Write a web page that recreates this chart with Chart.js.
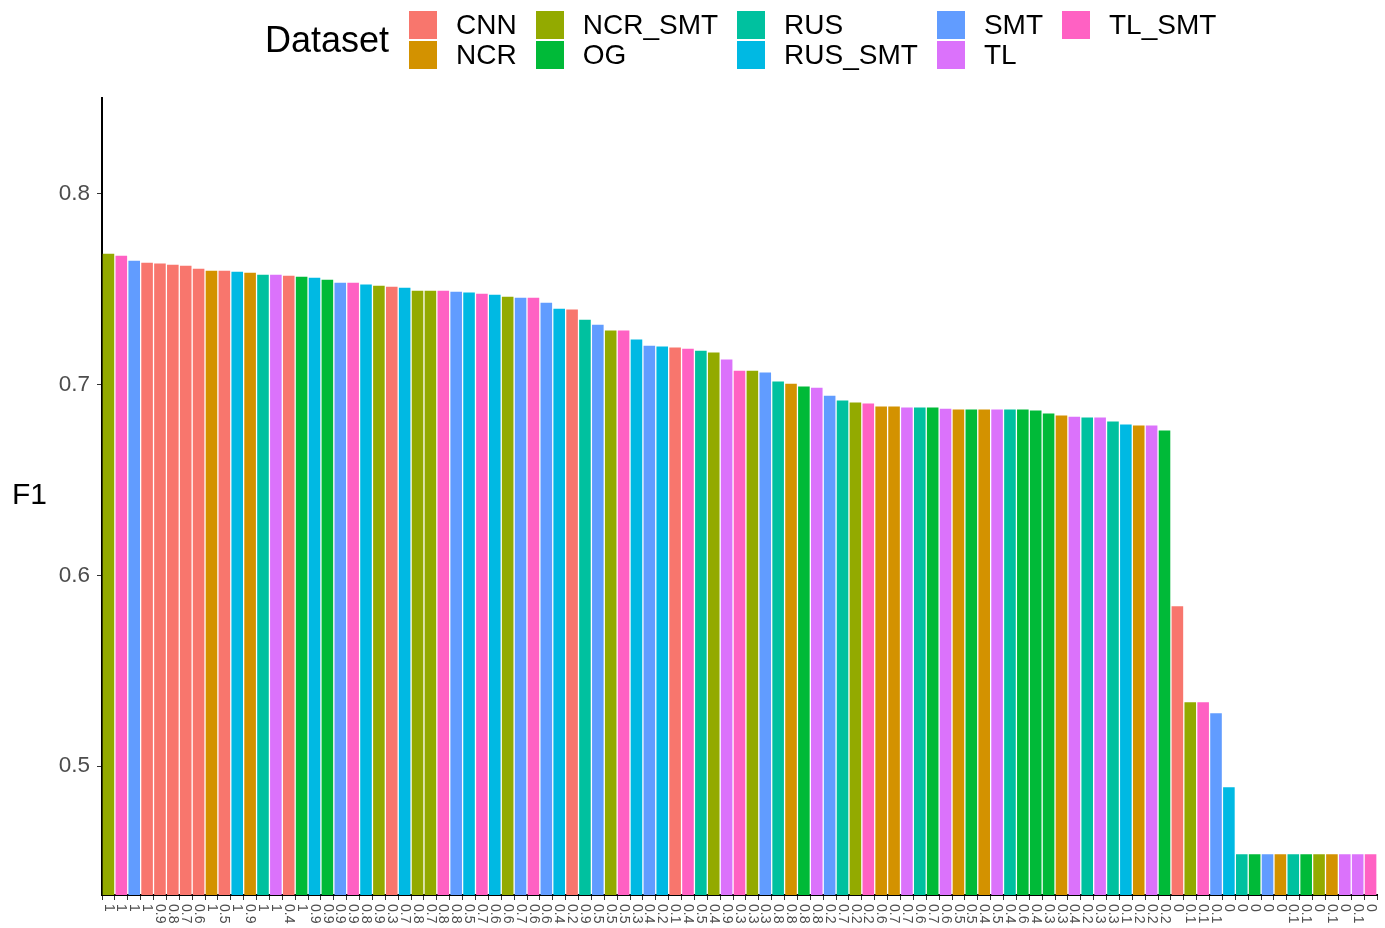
<!DOCTYPE html>
<html>
<head>
<meta charset="utf-8">
<script src="https://cdn.jsdelivr.net/npm/chart.js@4.4.1/dist/chart.umd.min.js"></script>
<style>
  html, body { margin: 0; padding: 0; background: #ffffff; }
  body { width: 1385px; height: 928px; position: relative; overflow: hidden;
         font-family: "Liberation Sans", Arial, Helvetica, sans-serif; }
  #wrap { position: absolute; left: 0; top: 0; width: 1385px; height: 928px; }
  #legend { position: absolute; left: 265px; top: 10px; display: flex; align-items: center; }
  #legend .title { font-size: 36px; color: #000; margin-right: 20px; line-height: 60px; }
  #legend .items { display: grid; grid-template-rows: 30px 30px; grid-auto-flow: column; column-gap: 19px; }
  #legend .item { display: flex; align-items: center; height: 30px; }
  #legend .key { width: 28px; height: 28px; margin-right: 19px; }
  #legend .lab { font-size: 28px; color: #000; white-space: nowrap; }
  #ytitle { position: absolute; left: 12px; top: 477px; font-size: 30px; color: #000; }
</style>
</head>
<body>
<div id="wrap"><canvas id="c" width="1385" height="928"></canvas></div>
<div id="legend"><div class="title">Dataset</div><div class="items" id="items"></div></div>
<div id="ytitle">F1</div>
<script>
// ---- data ----
const groups = ['CNN','NCR','NCR_SMT','OG','RUS','RUS_SMT','SMT','TL','TL_SMT'];
const groupColors = ['#F8766D','#D39200','#93AA00','#00BA38','#00C19F','#00B9E3','#619CFF','#DB72FB','#FF61C3'];

const xLabels = [
  '1','1','1','1','0.9','0.8','0.7','0.6','1','0.5',
  '1','0.9','1','1','0.4','1','0.9','0.9','0.9','0.9',
  '0.8','0.9','0.3','0.7','0.8','0.7','0.8','0.8','0.5','0.7',
  '0.6','0.6','0.7','0.6','0.6','0.4','0.2','0.9','0.5','0.5',
  '0.5','0.3','0.4','0.2','0.1','0.4','0.5','0.4','0.9','0.3',
  '0.3','0.3','0.8','0.8','0.8','0.8','0.2','0.7','0.2','0.2',
  '0.6','0.7','0.7','0.6','0.7','0.6','0.5','0.5','0.4','0.5',
  '0.4','0.6','0.4','0.3','0.3','0.4','0.2','0.3','0.3','0.1',
  '0.2','0.2','0.2','0','0.1','0.1','0.1','0','0','0',
  '0','0','0.1','0.1','0','0.1','0','0.1','0'
];

const barDataset = [
  'NCR_SMT','TL_SMT','SMT','CNN','CNN','CNN','CNN','CNN','NCR','CNN',
  'RUS_SMT','NCR','RUS','TL','CNN','OG','RUS_SMT','OG','SMT','TL_SMT',
  'RUS_SMT','NCR_SMT','CNN','RUS_SMT','NCR_SMT','NCR_SMT','TL_SMT','SMT','RUS_SMT','TL_SMT',
  'RUS_SMT','NCR_SMT','SMT','TL_SMT','SMT','RUS_SMT','CNN','RUS','SMT','NCR_SMT',
  'TL_SMT','RUS_SMT','SMT','RUS_SMT','CNN','TL_SMT','RUS','NCR_SMT','TL','TL_SMT',
  'NCR_SMT','SMT','RUS','NCR','OG','TL','SMT','RUS','NCR_SMT','TL_SMT',
  'NCR','NCR','TL','RUS','OG','TL','NCR','OG','NCR','TL',
  'RUS','OG','OG','OG','NCR','TL','RUS','TL','RUS','RUS_SMT',
  'NCR','TL','OG','CNN','NCR_SMT','TL_SMT','SMT','RUS_SMT','RUS','OG',
  'SMT','NCR','RUS','OG','NCR_SMT','NCR','TL','TL','TL_SMT'
];

const f1Values = [
  0.7686,0.7675,0.7649,0.7639,0.7634,0.7628,0.7623,0.7607,0.7597,0.7597,
  0.7592,0.7586,0.7576,0.7576,0.7571,0.7565,0.7560,0.7550,0.7534,0.7534,
  0.7524,0.7518,0.7513,0.7508,0.7492,0.7492,0.7492,0.7487,0.7482,0.7476,
  0.7471,0.7461,0.7455,0.7455,0.7429,0.7398,0.7393,0.7340,0.7314,0.7283,
  0.7283,0.7236,0.7204,0.7199,0.7194,0.7188,0.7178,0.7168,0.7131,0.7073,
  0.7073,0.7063,0.7016,0.7005,0.6990,0.6984,0.6942,0.6916,0.6906,0.6901,
  0.6885,0.6885,0.6880,0.6880,0.6880,0.6874,0.6869,0.6869,0.6869,0.6869,
  0.6869,0.6869,0.6864,0.6848,0.6838,0.6832,0.6827,0.6827,0.6806,0.6791,
  0.6785,0.6785,0.6759,0.5838,0.5335,0.5335,0.5277,0.4890,0.4539,0.4539,
  0.4539,0.4539,0.4539,0.4539,0.4539,0.4539,0.4539,0.4539,0.4539
];

const yTicks = [0.5, 0.6, 0.7, 0.8];
const yMin = 0.4325, yMax = 0.8502;

// ---- legend (HTML, column-major like ggplot) ----
const itemsEl = document.getElementById('items');
groups.forEach((g, i) => {
  const it = document.createElement('div'); it.className = 'item';
  const k = document.createElement('div'); k.className = 'key'; k.style.background = groupColors[i];
  const l = document.createElement('div'); l.className = 'lab'; l.textContent = g;
  it.appendChild(k); it.appendChild(l); itemsEl.appendChild(it);
});

const barColors = barDataset.map(g => groupColors[groups.indexOf(g)]);
const FONT = '"Liberation Sans", Arial, Helvetica, sans-serif';

const xLabelPlugin = {
  id: 'xLabelsRot',
  afterDraw(chart) {
    const { ctx } = chart;
    const x = chart.scales.x;
    ctx.save();
    ctx.font = '14px ' + FONT;
    ctx.fillStyle = '#4D4D4D';
    ctx.textAlign = 'left';
    ctx.textBaseline = 'middle';
    xLabels.forEach((lab, i) => {
      const px = x.getPixelForTick(i);
      ctx.save();
      ctx.translate(px, x.top + 9);
      ctx.rotate(Math.PI / 2);
      ctx.fillText(lab, 0, 0);
      ctx.restore();
    });
    ctx.restore();
  }
};

new Chart(document.getElementById('c'), {
  type: 'bar',
  data: {
    labels: xLabels,
    datasets: [{
      label: 'F1',
      data: f1Values,
      backgroundColor: barColors,
      borderWidth: 0,
      barPercentage: 0.9,
      categoryPercentage: 1.0
    }]
  },
  options: {
    responsive: false,
    animation: false,
    layout: { padding: { left: 0, right: 8, top: 98, bottom: 0 } },
    plugins: { legend: { display: false }, tooltip: { enabled: false } },
    scales: {
      x: {
        type: 'category',
        offset: true,
        afterFit: s => { s.height = 33; },
        grid: { display: true, drawOnChartArea: false, drawTicks: true, tickLength: 5, tickColor: '#333333', tickWidth: 1 },
        border: { display: true, color: '#000000', width: 2 },
        ticks: { display: false, autoSkip: false, maxRotation: 0 }
      },
      y: {
        min: yMin, max: yMax,
        afterFit: s => { s.width = 102; },
        afterBuildTicks: s => { s.ticks = yTicks.map(v => ({ value: v })); },
        grid: { display: true, drawOnChartArea: false, drawTicks: true, tickLength: 5, tickColor: '#333333', tickWidth: 1 },
        border: { display: true, color: '#000000', width: 2 },
        ticks: {
          color: '#4D4D4D',
          font: { family: FONT, size: 22.5 },
          padding: 7,
          callback: v => Number(v).toFixed(1)
        }
      }
    }
  },
  plugins: [xLabelPlugin]
});
</script>
</body>
</html>
